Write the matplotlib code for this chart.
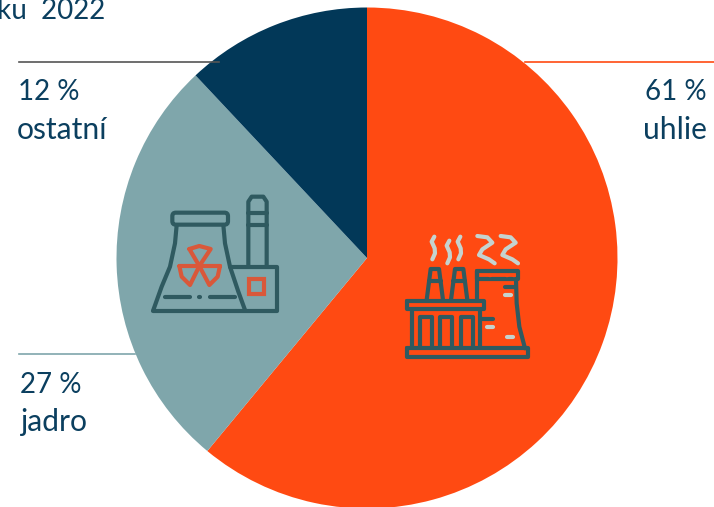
import matplotlib
matplotlib.use('Agg')
import matplotlib.pyplot as plt
from matplotlib.patches import Rectangle, FancyBboxPatch

# shares, clockwise from the top
labels = ['uhlie', 'jadro', 'ostatní']
values = [61, 27, 12]
colors = ['#ff4a12', '#7fa6ab', '#023858']

W, H = 714, 507
cx, cy, r = 367, 258, 250.5
text_col = '#0b3f5f'
icon_dark = '#2f5a60'
icon_light = '#c5d3cf'
icon_red = '#d9583a'

plt.rcParams['font.family'] = ['Lato', 'DejaVu Sans']

fig = plt.figure(figsize=(W / 100, H / 100), dpi=100)

# pie in its own axes, placed by pixels
ax = fig.add_axes([(cx - r) / W, 1 - (cy + r) / H, 2 * r / W, 2 * r / H])
ax.pie(values, colors=colors, startangle=90, counterclock=False, radius=1)
ax.set_xlim(-1, 1)
ax.set_ylim(-1, 1)

# overlay in pixel coordinates for labels, leader lines and icons
ov = fig.add_axes([0, 0, 1, 1])
ov.set_xlim(0, W)
ov.set_ylim(H, 0)
ov.axis('off')
ov.patch.set_alpha(0)

ov.plot([19, 219], [62, 62], color='#555555', lw=1.2)
ov.plot([525, 714], [62, 62], color=colors[0], lw=1.2)
ov.plot([19, 135], [354, 354], color=colors[1], lw=1.2)

fs = 20
fw = 21.6
ov.text(-3, 19, 'ku  2022', fontsize=fs, color=text_col, va='baseline')
ov.text(18, 100, f'{values[2]} %', fontsize=fs, color=text_col, va='baseline')
ov.text(17, 139, labels[2], fontsize=fw, color=text_col, va='baseline')
ov.text(20, 393, f'{values[1]} %', fontsize=fs, color=text_col, va='baseline')
ov.text(20, 431, labels[1], fontsize=fw, color=text_col, va='baseline')
ov.text(707, 100, f'{values[0]} %', fontsize=fs, color=text_col, va='baseline', ha='right')
ov.text(707, 139, labels[0], fontsize=fw, color=text_col, va='baseline', ha='right')


def draw(ox, oy, pts, color=icon_dark, lw=3.0):
    xs = [ox + p[0] / 3 for p in pts]
    ys = [oy + p[1] / 3 for p in pts]
    ov.plot(xs, ys, color=color, lw=lw, solid_capstyle='round', solid_joinstyle='round')


# factory icon on the coal slice
fx, fy = 390, 220
draw(fx, fy, [(52, 385), (415, 385), (415, 412), (52, 412), (52, 385)])
draw(fx, fy, [(52, 242), (283, 242), (283, 268), (52, 268), (52, 242)])
draw(fx, fy, [(65, 268), (65, 385)])
draw(fx, fy, [(270, 268), (270, 385)])
for x0 in [90, 150, 212]:
    draw(fx, fy, [(x0, 385), (x0, 292), (x0 + 37, 292), (x0 + 37, 385)])
for x0 in [110, 183]:
    draw(fx, fy, [(x0, 240), (x0 + 12, 147), (x0 + 37, 147), (x0 + 49, 240)])
    draw(fx, fy, [(x0 + 7, 182), (x0 + 42, 182)])
draw(fx, fy, [(262, 240), (262, 152), (385, 152), (385, 178), (262, 178), (262, 152)])
draw(fx, fy, [(378, 178), (380, 250), (388, 320), (405, 385)])
for x0 in [275, 298, 323, 348, 370]:
    draw(fx, fy, [(x0, 165), (x0 + 2, 165)], color=colors[0], lw=2.4)
draw(fx, fy, [(345, 200), (378, 200)])
draw(fx, fy, [(275, 296), (310, 296)])
draw(fx, fy, [(345, 225), (363, 225)], color=icon_light)
draw(fx, fy, [(292, 320), (308, 320)], color=icon_light)
draw(fx, fy, [(352, 350), (370, 350)], color=icon_light)
# smoke
for x0, y0 in [(130, 50), (175, 62), (208, 50)]:
    draw(fx, fy, [(x0 + 3, y0), (x0 - 5, y0 + 15), (x0 + 4, y0 + 35), (x0 + 5, y0 + 50), (x0 - 3, y0 + 68)],
         color=icon_light)
for x0 in [262, 332]:
    draw(fx, fy, [(x0, 48), (x0 + 30, 52), (x0 + 45, 68), (x0 + 15, 88), (x0 + 5, 105), (x0 + 35, 118), (x0 + 52, 130)],
         color=icon_light)

# nuclear plant icon on the nuclear slice
nx, ny = 140, 180
ov.add_patch(FancyBboxPatch((nx + 97 / 3, ny + 98 / 3), 167 / 3, 36 / 3,
                            boxstyle='round,pad=0,rounding_size=3.5', fill=False, ec=icon_dark, lw=3.0))
draw(nx, ny, [(110, 135), (105, 190), (90, 260), (65, 320), (40, 390)])
draw(nx, ny, [(250, 135), (255, 190), (270, 260), (295, 335), (315, 390)])
draw(nx, ny, [(40, 392), (410, 392), (410, 260), (270, 260)])
draw(nx, ny, [(75, 350), (150, 350)])
draw(nx, ny, [(178, 350), (180, 350)])
draw(nx, ny, [(210, 350), (285, 350)])
draw(nx, ny, [(325, 255), (325, 65), (335, 50), (370, 50), (380, 65), (380, 255)])
draw(nx, ny, [(325, 100), (380, 100)])
draw(nx, ny, [(325, 135), (380, 135)])
ov.add_patch(Rectangle((nx + 328 / 3, ny + 298 / 3), 44 / 3, 44 / 3, fill=False, ec=icon_red, lw=3.0))
# radiation sign
draw(nx, ny, [(148, 207), (178, 198), (212, 207), (178, 258), (148, 207)], color=icon_red)
draw(nx, ny, [(118, 258), (178, 258), (150, 315), (125, 290), (118, 258)], color=icon_red)
draw(nx, ny, [(240, 258), (178, 258), (208, 315), (233, 290), (240, 258)], color=icon_red)

fig.savefig('out.png', dpi=100)
